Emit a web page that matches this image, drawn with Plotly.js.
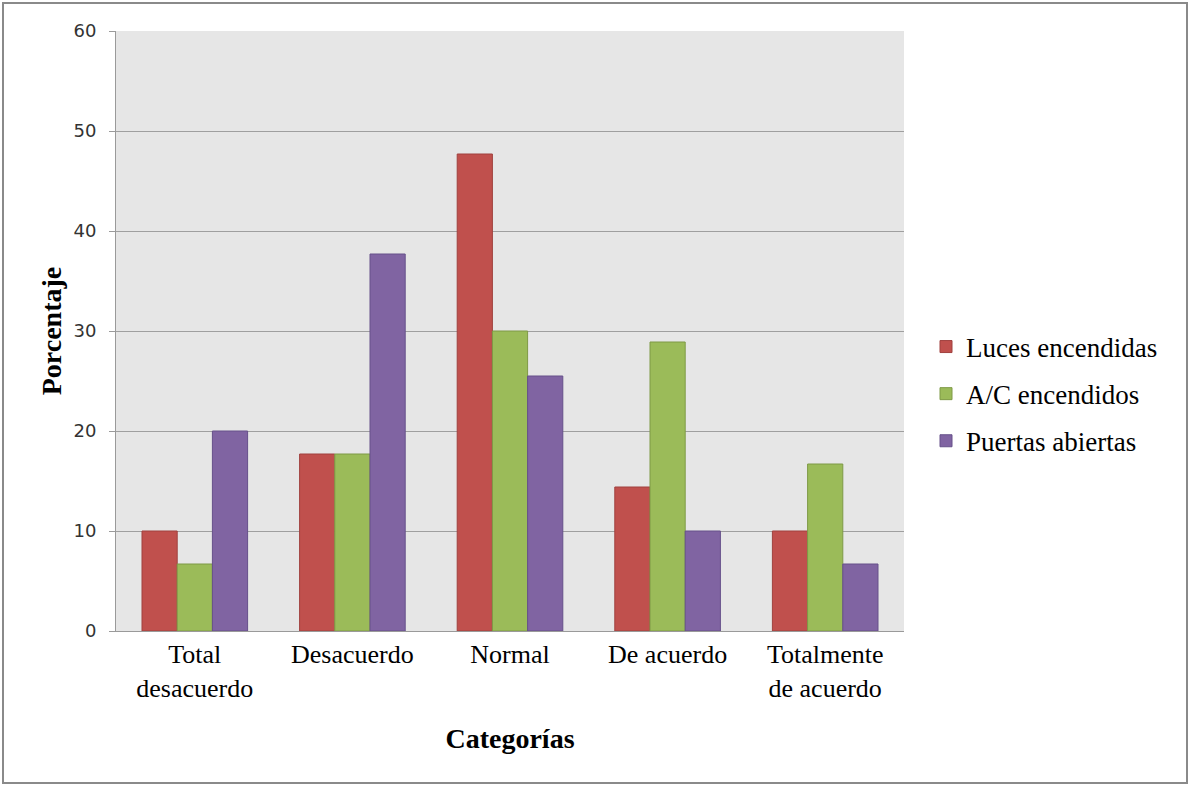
<!DOCTYPE html>
<html>
<head>
<meta charset="utf-8">
<script src="https://cdn.plot.ly/plotly-3.0.1.min.js"></script>
<style>
html,body{margin:0;padding:0;background:#fff;}
#chart{width:1190px;height:786px;}
</style>
</head>
<body>
<div id="chart"></div>
<script>
const categories = ["Total<br>desacuerdo", "Desacuerdo", "Normal", "De acuerdo", "Totalmente<br>de acuerdo"];
const seriesNames = ["Luces encendidas", "A/C encendidos", "Puertas abiertas"];
const luces = [10, 17.7, 47.7, 14.4, 10];
const ac = [6.7, 17.7, 30, 28.9, 16.7];
const puertas = [20, 37.7, 25.5, 10, 6.7];
const yTicks = [0, 10, 20, 30, 40, 50, 60];

const fills = ["#C0504D", "#9BBB59", "#8064A2"];
const borders = ["#A0413E", "#7E9A46", "#66508A"];
const values = [luces, ac, puertas];

const traces = values.map((v, i) => ({
  type: "bar",
  name: seriesNames[i],
  x: categories,
  y: v,
  legendgroup: "g" + i,
  marker: {color: fills[i], line: {color: borders[i], width: 1}},
  hoverinfo: "x+y+name"
}));

const L = 116, R = 904, T = 31, B = 631;
const W = R - L, H = B - T;
const px = x => (x - L) / W;
const py = y => (B - y) / H;
const serif = "Liberation Serif, Times New Roman, serif";

const layout = {
  width: 1190, height: 786,
  margin: {l: L, r: 1190 - R, t: T, b: 786 - B},
  paper_bgcolor: "#ffffff",
  plot_bgcolor: "#E6E6E6",
  barmode: "group",
  bargap: 0.33,
  bargroupgap: 0,
  showlegend: true,
  legend: {
    x: px(926), xanchor: "left",
    y: py(394), yanchor: "middle",
    font: {family: serif, size: 27, color: "#000"},
    traceorder: "grouped",
    tracegroupgap: 9,
    bgcolor: "rgba(0,0,0,0)"
  },
  xaxis: {
    type: "category",
    showline: true, linecolor: "#9a9a9a", linewidth: 1,
    ticks: "", showgrid: false,
    tickfont: {family: serif, size: 26, color: "#000"},
    title: {text: "Categorías", font: {family: serif, size: 28, color: "#000", weight: "bold"}, standoff: 26},
    automargin: false
  },
  yaxis: {
    range: [0, 60],
    tickvals: yTicks,
    ticktext: yTicks.map(String),
    showline: true, linecolor: "#9a9a9a", linewidth: 1,
    ticks: "outside", ticklen: 6, tickcolor: "#9a9a9a",
    ticklabelstandoff: 9,
    showgrid: true, gridcolor: "#9f9f9f", gridwidth: 1,
    zeroline: false,
    tickfont: {family: "DejaVu Sans, Verdana, sans-serif", size: 18, color: "#333"},
    title: {text: "Porcentaje", font: {family: serif, size: 28, color: "#000", weight: "bold"}, standoff: 3},
    automargin: false
  },
  shapes: [{
    type: "rect", xref: "paper", yref: "paper",
    x0: px(3), x1: px(1187), y0: py(783), y1: py(3),
    line: {color: "#8a8a8a", width: 2}, fillcolor: "rgba(0,0,0,0)", layer: "below"
  }]
};

Plotly.newPlot("chart", traces, layout, {displayModeBar: false, staticPlot: true});
</script>
</body>
</html>
